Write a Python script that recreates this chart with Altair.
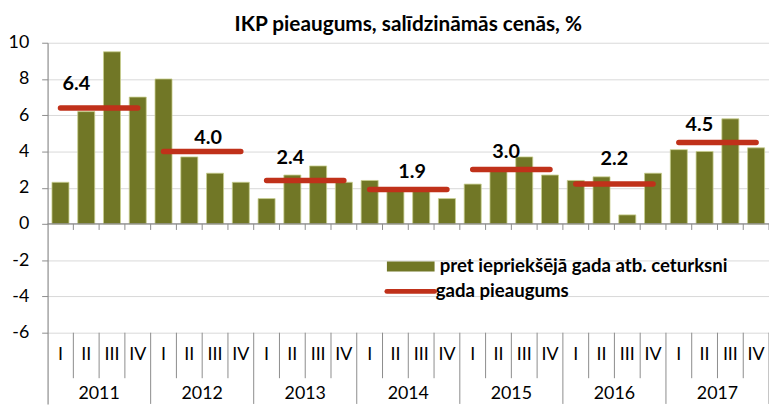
import altair as alt
import pandas as pd

years = ["2011", "2012", "2013", "2014", "2015", "2016", "2017"]
quarters = ["I", "II", "III", "IV"]
quarterly_growth = [
    2.3, 6.2, 9.5, 7.0,
    8.0, 3.7, 2.8, 2.3,
    1.4, 2.7, 3.2, 2.3,
    2.4, 1.8, 1.8, 1.4,
    2.2, 2.9, 3.7, 2.7,
    2.4, 2.6, 0.5, 2.8,
    4.1, 4.0, 5.8, 4.2,
]
annual_growth = [6.4, 4.0, 2.4, 1.9, 3.0, 2.2, 4.5]
annual_labels = ["6.4", "4.0", "2.4", "1.9", "3.0", "2.2", "4.5"]
title_text = "IKP pieaugums, salīdzināmās cenās, %"
legend_bar = "pret iepriekšējā gada atb. ceturksni"
legend_line = "gada pieaugums"

# annotation placement (offsets from year centre / line, in data units)
label_dx = [-0.88, 0.23, -0.58, 0.15, -0.2, 0.0, -0.7]
label_dy = [1.31, 0.76, 1.26, 0.98, 0.98, 1.37, 0.98]

GREEN = "#717726"
RED = "#c0311a"
AXIS = "#8c8c8c"
GRID = "#d9d9d9"
FONT = "Lato"

Y_MIN, Y_MAX = -9.93, 10
W, H = 729, 365

bars = pd.DataFrame({
    "i": list(range(28)),
    "year": [y for y in years for _ in quarters],
    "q": quarters * 7,
    "v": quarterly_growth,
})
bars["x0"] = bars["i"] + 0.17
bars["x1"] = bars["i"] + 0.83
bars["xc"] = bars["i"] + 0.5

ann = pd.DataFrame({"k": list(range(7)), "year": years, "v": annual_growth,
                    "lab": annual_labels, "dx": label_dx, "dy": label_dy})
ann["x0"] = ann["k"] * 4 + 0.5
ann["x1"] = ann["k"] * 4 + 3.5
ann["xc"] = ann["k"] * 4 + 2
ann["tx"] = ann["xc"] + ann["dx"]
ann["ty"] = ann["v"] + ann["dy"]

xs = alt.Scale(domain=[0, 28], nice=False, zero=False)
ys = alt.Scale(domain=[Y_MIN, Y_MAX], nice=False, zero=False)
X = lambda f: alt.X(f, type="quantitative", scale=xs, axis=None)
Yax = alt.Y("v:Q", scale=ys, axis=alt.Axis(
    values=[-6, -4, -2, 0, 2, 4, 6, 8, 10], grid=True, gridColor=GRID, gridWidth=1,
    domainColor=AXIS, domainWidth=1.2, tickColor=AXIS, tickSize=6, labelFontSize=18,
    labelFont=FONT, labelColor="#000", labelPadding=13, title=None,
    labelExpr="datum.value + ''"))

bar_layer = alt.Chart(bars).mark_bar(color=GREEN, stroke="#c9cf8e", strokeWidth=0.8).encode(
    x=X("x0"), x2="x1", y=Yax, y2=alt.datum(0))

# zero axis line and its ticks
zero_line = alt.Chart(pd.DataFrame({"a": [0], "b": [28], "y": [0]})).mark_rule(
    color=AXIS, strokeWidth=1.2).encode(x=X("a"), x2="b", y=alt.Y("y:Q", scale=ys))
ticks_df = pd.DataFrame({"x": list(range(1, 29)), "y0": [0] * 28, "y1": [-0.33] * 28})
zero_ticks = alt.Chart(ticks_df).mark_rule(color=AXIS, strokeWidth=1).encode(
    x=X("x"), y=alt.Y("y0:Q", scale=ys), y2="y1")

line_layer = alt.Chart(ann).mark_rule(color=RED, strokeWidth=5.5, strokeCap="round").encode(
    x=X("x0"), x2="x1", y=alt.Y("v:Q", scale=ys))
label_layer = alt.Chart(ann).mark_text(font=FONT, fontWeight="bold", fontSize=20,
                                       color="#000").encode(
    x=X("tx"), y=alt.Y("ty:Q", scale=ys), text="lab:N")

# category axis (multi-level) below -6
qsep = pd.DataFrame({"x": [i for i in range(1, 28) if i % 4 != 0]})
qsep["y0"] = -6
qsep["y1"] = -8.51
ysep = pd.DataFrame({"x": [4, 8, 12, 16, 20, 24, 28]})
ysep["y0"] = -6
ysep["y1"] = Y_MIN
sep_q = alt.Chart(qsep).mark_rule(color=AXIS, strokeWidth=1).encode(
    x=X("x"), y=alt.Y("y0:Q", scale=ys), y2="y1")
sep_y = alt.Chart(ysep).mark_rule(color=AXIS, strokeWidth=1).encode(
    x=X("x"), y=alt.Y("y0:Q", scale=ys), y2="y1")
bars["qy"] = -7.26
qlab = alt.Chart(bars).mark_text(font=FONT, fontSize=18, color="#000").encode(
    x=X("xc"), y=alt.Y("qy:Q", scale=ys), text="q:N")
ann["yy"] = -9.39
ylab = alt.Chart(ann).mark_text(font=FONT, fontSize=18, color="#000").encode(
    x=X("xc"), y=alt.Y("yy:Q", scale=ys), text="year:N")

# legend (inside plot)
leg = pd.DataFrame({"x0": [13.17], "x1": [15.02], "yb0": [-2.07], "yb1": [-2.62],
                    "yl": [-3.72], "tx": [15.22], "ty1": [-2.34]})
leg_bar = alt.Chart(leg).mark_rect(color=GREEN).encode(
    x=X("x0"), x2="x1", y=alt.Y("yb0:Q", scale=ys), y2="yb1")
leg_line = alt.Chart(leg).mark_rule(color=RED, strokeWidth=5, strokeCap="round").encode(
    x=X("x0"), x2="x1", y=alt.Y("yl:Q", scale=ys))
leg_t1 = alt.Chart(leg).mark_text(font=FONT, fontSize=18.8, fontWeight="bold", align="left",
                                  color="#000", text=legend_bar).encode(
    x=X("tx"), y=alt.Y("ty1:Q", scale=ys))
leg_t2 = alt.Chart(leg).mark_text(font=FONT, fontSize=18.8, fontWeight="bold", align="left",
                                  color="#000", text=legend_line, dx=-4).encode(
    x=X("tx"), y=alt.Y("yl:Q", scale=ys))

chart = alt.layer(
    bar_layer, zero_line, zero_ticks, sep_q, sep_y, qlab, ylab,
    line_layer, label_layer, leg_bar, leg_line, leg_t1, leg_t2,
).properties(
    width=W, height=H,
    title=alt.TitleParams(title_text, font=FONT, fontSize=21, fontWeight="bold",
                          color="#000", anchor="middle", offset=6, dy=7),
    autosize=alt.AutoSizeParams(type="none"),
    padding={"left": 40, "top": 33, "right": 0, "bottom": 0},
).configure_view(stroke=None)

chart.save("out.html", embed_options={"renderer": "svg", "actions": False})
